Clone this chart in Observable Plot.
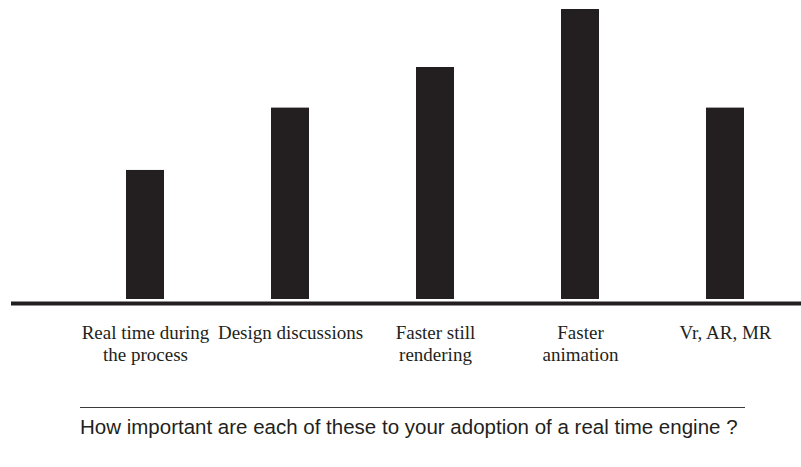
<!DOCTYPE html>
<html>
<head>
<meta charset="utf-8">
<script src="https://cdn.jsdelivr.net/npm/d3@7"></script>
<script src="https://cdn.jsdelivr.net/npm/@observablehq/plot@0.6"></script>
<style>
  html, body { margin: 0; padding: 0; background: #fff; }
  #chart svg { display: block; }
  #caption {
    margin-left: 80px;
    width: 665px;
    margin-top: 27px;
    border-top: 1.5px solid #3a3a3a;
    padding-top: 7px;
    font-family: "Liberation Sans", Arial, sans-serif;
    font-size: 20.5px;
    line-height: 24px;
    color: #231f20;
    white-space: nowrap;
  }
</style>
</head>
<body>
<div id="chart"></div>
<div id="caption"></div>
<script>
const categories = [
  "Real time during\nthe process",
  "Design discussions",
  "Faster still\nrendering",
  "Faster\nanimation",
  "Vr, AR, MR"
];
const values = [44.5, 66, 80, 100, 66];
const captionText = "How important are each of these to your adoption of a real time engine ?";

const data = categories.map((c, i) => ({category: c, value: values[i]}));
const ink = "#231f20";

const chart = Plot.plot({
  width: 801,
  height: 380,
  marginTop: 9,
  marginBottom: 81,
  marginLeft: 11,
  marginRight: 0,
  x: {domain: categories, paddingInner: 0.738, paddingOuter: 0.59, align: 0.67, label: null},
  y: {domain: [0, 100], axis: null},
  marks: [
    Plot.barY(data, {x: "category", y: "value", fill: ink}),
    Plot.ruleY([0], {stroke: ink, strokeWidth: 4, dy: 4}),
    Plot.axisX({
      tickSize: 0,
      tickPadding: 24,
      fontSize: 19,
      fontFamily: "Liberation Serif, serif",
      lineHeight: 1.15,
      fill: ink,
      label: null
    })
  ]
});
document.getElementById("chart").appendChild(chart);
document.getElementById("caption").textContent = captionText;
</script>
</body>
</html>
